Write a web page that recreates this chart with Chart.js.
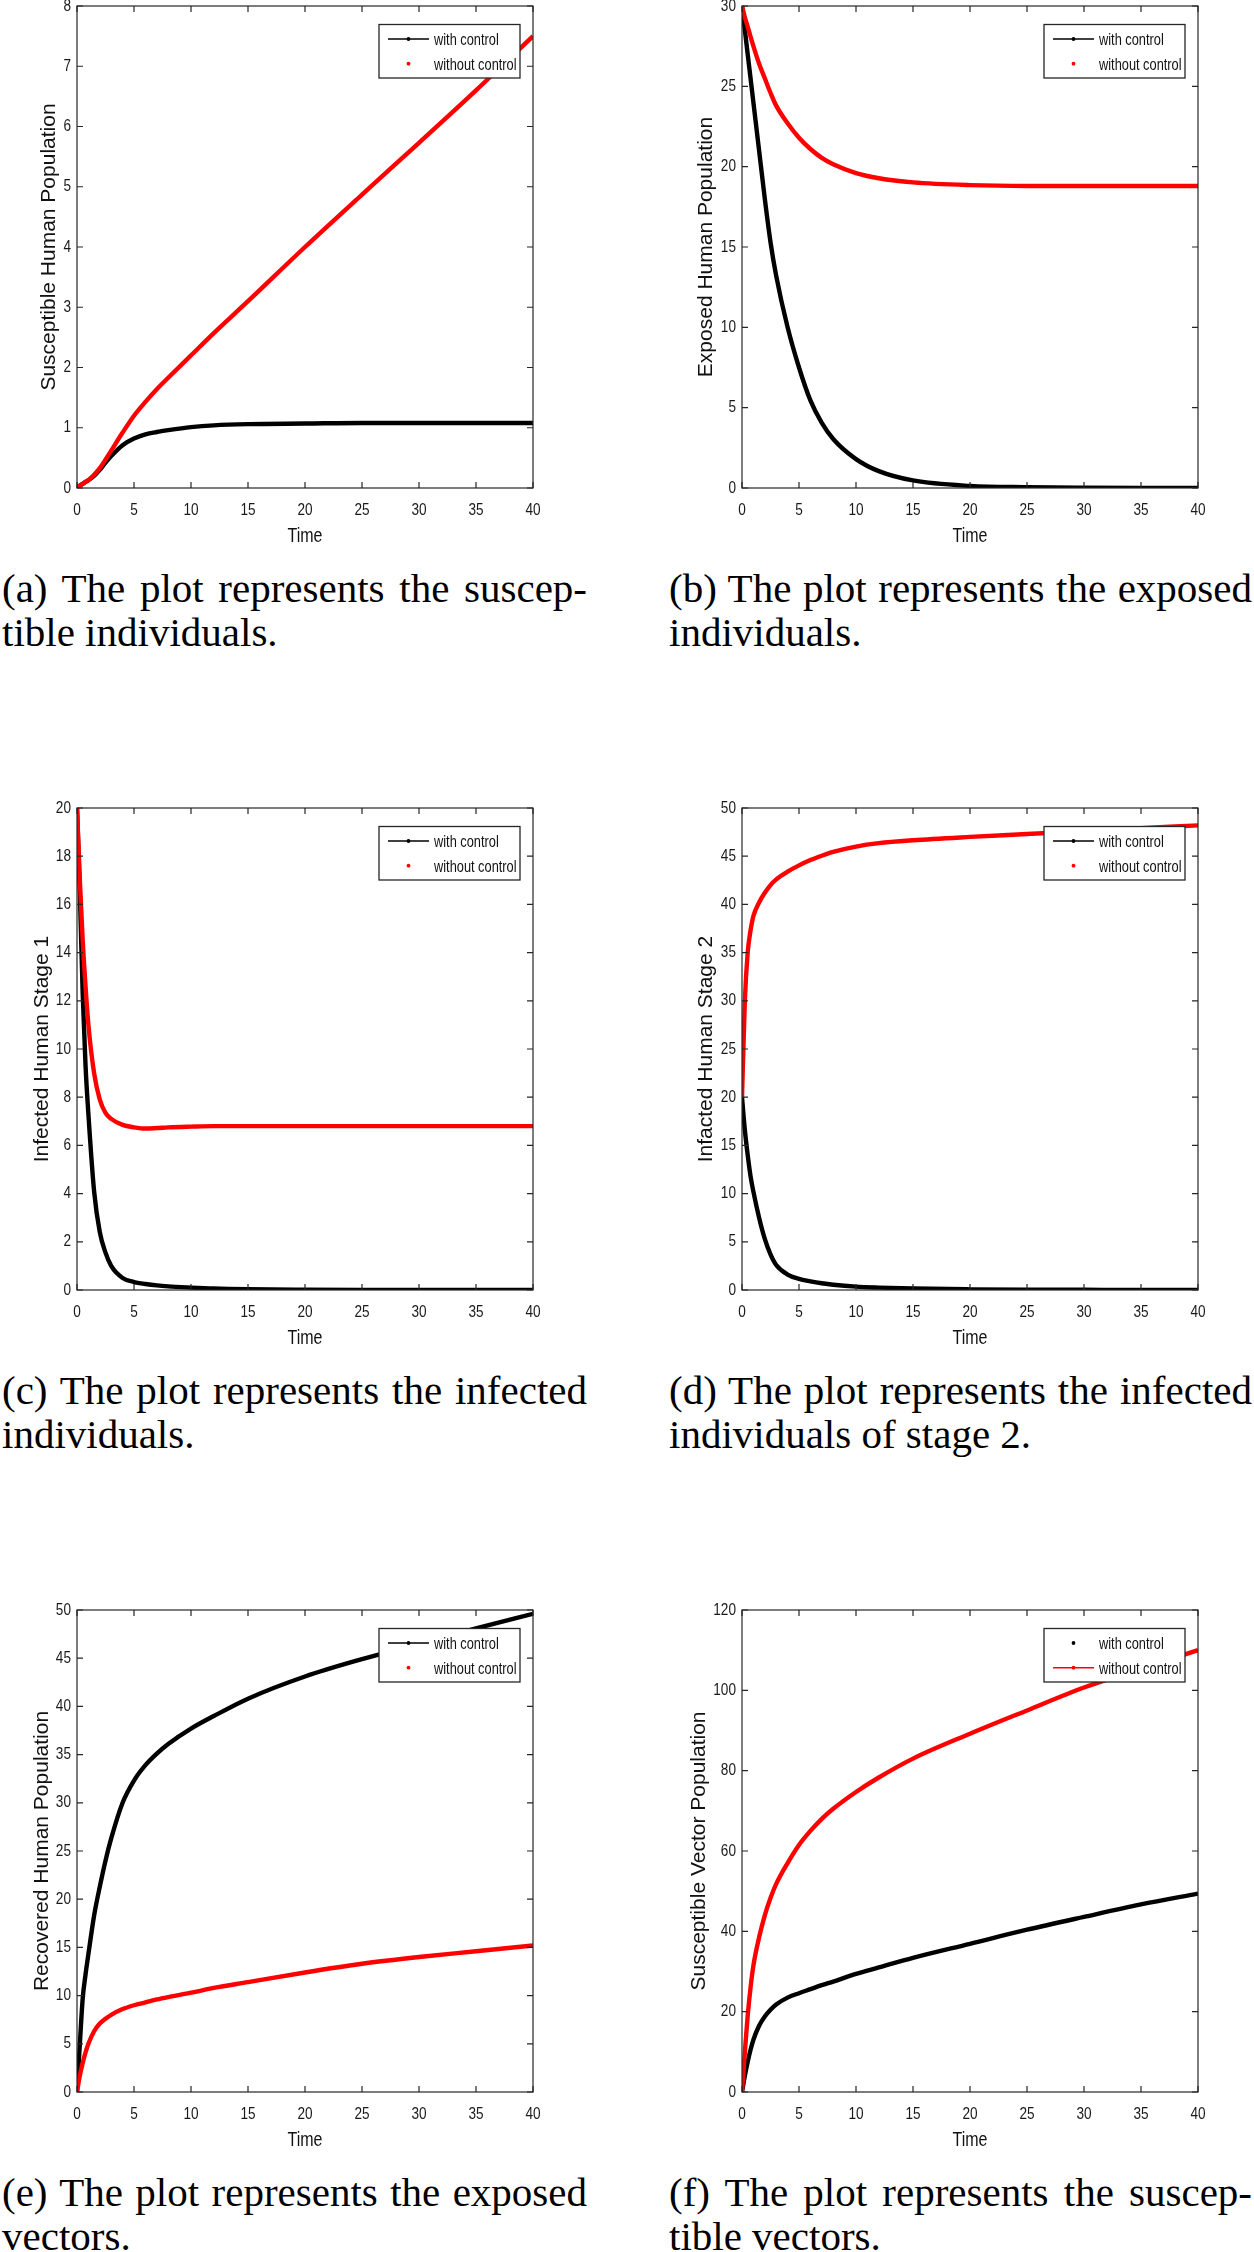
<!DOCTYPE html>
<html>
<head>
<meta charset="utf-8">
<script src="https://cdn.jsdelivr.net/npm/chart.js@4.4.1/dist/chart.umd.min.js"></script>
<style>
html,body{margin:0;padding:0;background:#fff;}
body{width:1254px;height:2252px;position:relative;overflow:hidden;}
canvas{position:absolute;}
.cap{position:absolute;font-family:'Liberation Serif','Times New Roman',serif;font-size:41px;line-height:44.5px;color:#000;white-space:nowrap;}
</style>
</head>
<body>
<script>
// ---------- data ----------
const TIME = [0,0.25,0.5,0.75,1,1.5,2,2.5,3,4,5,6,7,8,10,12,15,20,25,30,35,40];

const SH_WITH    = [0.02,0.04,0.07,0.10,0.13,0.20,0.30,0.42,0.53,0.71,0.82,0.89,0.93,0.96,1.01,1.04,1.06,1.07,1.08,1.08,1.08,1.08];
const SH_WITHOUT = [0.02,0.04,0.07,0.10,0.13,0.22,0.33,0.47,0.62,0.92,1.20,1.43,1.64,1.83,2.20,2.57,3.10,4.00,4.87,5.73,6.60,7.50];

const EH_WITH    = [30,28.5,27,25.5,24,21,18,15.3,13.2,10,7.5,5.45,4.05,3.05,1.8,1.05,0.47,0.13,0.05,0.02,0.01,0.01];
const EH_WITHOUT = [30,29.3,28.7,28.1,27.5,26.4,25.5,24.6,23.8,22.7,21.8,21.1,20.55,20.15,19.6,19.28,19.02,18.85,18.8,18.8,18.8,18.8];

const I1_WITH    = [20,16.5,12.3,9.3,7.3,4.1,2.4,1.55,1.0,0.5,0.33,0.25,0.19,0.15,0.1,0.06,0.03,0.01,0,0,0,0];
const I1_WITHOUT = [20,17,14.5,12.6,11.0,9.0,7.9,7.35,7.1,6.85,6.75,6.7,6.72,6.75,6.78,6.8,6.8,6.8,6.8,6.8,6.8,6.8];

const I2_WITH    = [20,16.6,14.0,11.8,10.2,7.5,5.3,3.7,2.6,1.6,1.15,0.9,0.7,0.55,0.35,0.25,0.15,0.07,0.03,0.02,0.01,0.01];
const I2_WITHOUT = [20,30,35,37.3,38.8,40.2,41.2,42.0,42.6,43.4,44.05,44.6,45.05,45.45,46.0,46.35,46.65,47.0,47.3,47.6,47.9,48.2];

const RH_WITH    = [0,5,9.7,12.2,14.3,18.3,21.3,24.0,26.3,30.0,32.3,33.9,35.1,36.1,37.7,39.0,40.8,43.1,44.9,46.5,48.1,49.6];
const RH_WITHOUT = [0,1.7,3.0,4.1,5.0,6.3,7.1,7.6,8.0,8.6,9.0,9.3,9.6,9.85,10.3,10.8,11.4,12.4,13.3,14.0,14.6,15.2];

const SV_WITH    = [0,4,7.5,10.5,13,16.5,18.8,20.5,21.8,23.5,24.6,25.6,26.6,27.5,29.4,31.0,33.4,36.9,40.4,43.6,46.7,49.4];
const SV_WITHOUT = [0,10,19,26,31.5,38.5,44,48.3,51.8,57,61.5,65,68,70.5,74.7,78.3,83,89.2,95,100.7,105.4,110];

const X_MAX = 40, X_STEP = 5;
const Y_TITLES = ['Susceptible Human Population','Exposed Human Population','Infected Human Stage 1','Infacted Human Stage 2','Recovered Human Population','Susceptible Vector Population'];
const Y_MAX  = [8,30,20,50,50,120];
const Y_STEP = [1,5,2,5,5,20];
const SERIES_WITH    = [SH_WITH,EH_WITH,I1_WITH,I2_WITH,RH_WITH,SV_WITH];
const SERIES_WITHOUT = [SH_WITHOUT,EH_WITHOUT,I1_WITHOUT,I2_WITHOUT,RH_WITHOUT,SV_WITHOUT];
const LABEL_WITH = 'with control', LABEL_WITHOUT = 'without control';
// legend glyph style per panel: [with control, without control]
const LEGEND_STYLE = [['linedot','dot'],['linedot','dot'],['linedot','dot'],['linedot','dot'],['linedot','dot'],['dot','linedot']];

const CAPTIONS = [
  ['(a) The plot represents the suscep-','tible individuals.'],
  ['(b) The plot represents the exposed','individuals.'],
  ['(c) The plot represents the infected','individuals.'],
  ['(d) The plot represents the infected','individuals of stage 2.'],
  ['(e) The plot represents the exposed','vectors.'],
  ['(f) The plot represents the suscep-','tible vectors.']
];

// ---------- layout ----------
const SANS = "'Liberation Sans',Arial,Helvetica,sans-serif";
const NARROW_FACTOR = 0.8;
const ROW_TOP = [6, 808, 1610];
const PLOT_H = 482, PLOT_W = 456;
const COL_LEFT = [0, 627], CANVAS_W = [600, 627], AXIS_W = [77, 115];
const TITLE_CX = [49, 79, 42, 79.5, 42, 72.5];
const CAP_X = [2, 669], CAP_W = [585, 583], CAP_BASE = [602, 1404, 2206];

// horizontal text is drawn condensed (as in the reference); rotated text stays normal
const narrowText = {
  id: 'narrowText',
  beforeInit(chart) {
    const ctx = chart.ctx;
    const orig = ctx.fillText.bind(ctx);
    ctx.fillText = function (t, x, y, mw) {
      const m = ctx.getTransform();
      if (Math.abs(m.b) < 1e-6 && Math.abs(m.c) < 1e-6) {
        ctx.save();
        ctx.translate(x, y);
        ctx.scale(NARROW_FACTOR, 1);
        if (mw === undefined) orig(t, 0, 0); else orig(t, 0, 0, mw / NARROW_FACTOR);
        ctx.restore();
      } else {
        if (mw === undefined) orig(t, x, y); else orig(t, x, y, mw);
      }
    };
  }
};

const matlabAxes = {
  id: 'matlabAxes',
  afterDatasetsDraw(chart) {
    const {ctx, chartArea: a} = chart;
    const xs = chart.scales.x, ys = chart.scales.y;
    ctx.save();
    ctx.strokeStyle = '#262626';
    ctx.lineWidth = 1.2;
    ctx.beginPath();
    xs.ticks.forEach(t => {
      const px = xs.getPixelForValue(t.value);
      ctx.moveTo(px, a.bottom); ctx.lineTo(px, a.bottom - 6);
      ctx.moveTo(px, a.top); ctx.lineTo(px, a.top + 6);
    });
    ys.ticks.forEach(t => {
      const py = ys.getPixelForValue(t.value);
      ctx.moveTo(a.left, py); ctx.lineTo(a.left + 6, py);
      ctx.moveTo(a.right, py); ctx.lineTo(a.right - 6, py);
    });
    ctx.stroke();
    ctx.strokeRect(a.left, a.top, a.right - a.left, a.bottom - a.top);
    ctx.restore();
  }
};

const matlabLegend = {
  id: 'matlabLegend',
  afterDraw(chart) {
    const {ctx, chartArea: a} = chart;
    const bw = 141, bh = 53.5;
    const bx = a.right - 13 - bw, by = a.top + 18.5;
    ctx.save();
    ctx.fillStyle = '#fff';
    ctx.fillRect(bx, by, bw, bh);
    ctx.strokeStyle = '#262626';
    ctx.lineWidth = 1.3;
    ctx.strokeRect(bx, by, bw, bh);
    chart.data.datasets.forEach((ds, i) => {
      const yy = by + 14.5 + i * 24.7;
      const x0 = bx + 9, x1 = bx + 50, cx = (x0 + x1) / 2;
      ctx.strokeStyle = ds.borderColor;
      ctx.fillStyle = ds.borderColor;
      if (ds.legendStyle === 'linedot') {
        ctx.lineWidth = 1.4;
        ctx.beginPath(); ctx.moveTo(x0, yy); ctx.lineTo(x1, yy); ctx.stroke();
      }
      ctx.beginPath(); ctx.arc(cx, yy, 1.9, 0, Math.PI * 2); ctx.fill();
      ctx.fillStyle = '#111';
      ctx.font = "16px " + SANS;
      ctx.textBaseline = 'middle';
      ctx.textAlign = 'left';
      ctx.fillText(ds.label, bx + 55, yy + 1.5);
    });
    ctx.restore();
  }
};

function makePanel(i) {
  const col = i % 2, row = Math.floor(i / 2);
  const w = CANVAS_W[col], h = 578, axisW = AXIS_W[col];
  const cv = document.createElement('canvas');
  cv.width = w; cv.height = h;
  cv.style.left = COL_LEFT[col] + 'px';
  cv.style.top = (ROW_TOP[row] - 20) + 'px';
  cv.style.width = w + 'px'; cv.style.height = h + 'px';
  document.body.appendChild(cv);
  const pts = arr => TIME.map((t, k) => ({x: t, y: arr[k]}));
  new Chart(cv.getContext('2d'), {
    type: 'line',
    data: {
      datasets: [
        {label: LABEL_WITH, data: pts(SERIES_WITH[i]), borderColor: '#000000', backgroundColor: '#000000', order: 1, legendStyle: LEGEND_STYLE[i][0]},
        {label: LABEL_WITHOUT, data: pts(SERIES_WITHOUT[i]), borderColor: '#ff0000', backgroundColor: '#ff0000', order: 0, legendStyle: LEGEND_STYLE[i][1]}
      ]
    },
    options: {
      responsive: false,
      animation: false,
      devicePixelRatio: 1,
      layout: {padding: {top: 20, right: w - axisW - PLOT_W, bottom: 0, left: 0}},
      elements: {
        point: {radius: 0, hoverRadius: 0},
        line: {borderWidth: 4.4, cubicInterpolationMode: 'monotone', fill: false}
      },
      plugins: {legend: {display: false}, tooltip: {enabled: false}},
      scales: {
        x: {
          type: 'linear', min: 0, max: X_MAX,
          ticks: {stepSize: X_STEP, padding: 11.8, color: '#1a1a1a', font: {family: SANS, size: 17}, maxRotation: 0},
          grid: {display: false, drawTicks: false},
          border: {display: false},
          title: {display: true, text: 'Time', color: '#111', font: {family: SANS, size: 20}, padding: {top: 0, bottom: 15.3}},
          afterFit(s) { s.height = h - 20 - PLOT_H; }
        },
        y: {
          type: 'linear', min: 0, max: Y_MAX[i],
          ticks: {stepSize: Y_STEP[i], padding: 6, color: '#1a1a1a', font: {family: SANS, size: 17}},
          grid: {display: false, drawTicks: false},
          border: {display: false},
          title: {display: true, text: Y_TITLES[i], color: '#111', font: {family: SANS, size: 21}, padding: {top: TITLE_CX[i] - 12.6, bottom: 0}},
          afterFit(s) { s.width = axisW; s.paddingTop = 0; s.paddingBottom = 0; }
        }
      }
    },
    plugins: [narrowText, matlabAxes, matlabLegend]
  });
}

function addCaption(i) {
  const col = i % 2, row = Math.floor(i / 2);
  const top = CAP_BASE[row] - 36.1;
  CAPTIONS[i].forEach((txt, k) => {
    const d = document.createElement('div');
    d.className = 'cap';
    d.textContent = txt;
    d.style.left = CAP_X[col] + 'px';
    d.style.top = (top + k * 44.5) + 'px';
    document.body.appendChild(d);
    if (k === 0) {
      const nat = d.getBoundingClientRect().width;
      const spaces = (txt.match(/ /g) || []).length;
      d.style.wordSpacing = ((CAP_W[col] - nat) / spaces) + 'px';
    }
  });
}

for (let i = 0; i < 6; i++) { makePanel(i); addCaption(i); }
</script>
</body>
</html>
